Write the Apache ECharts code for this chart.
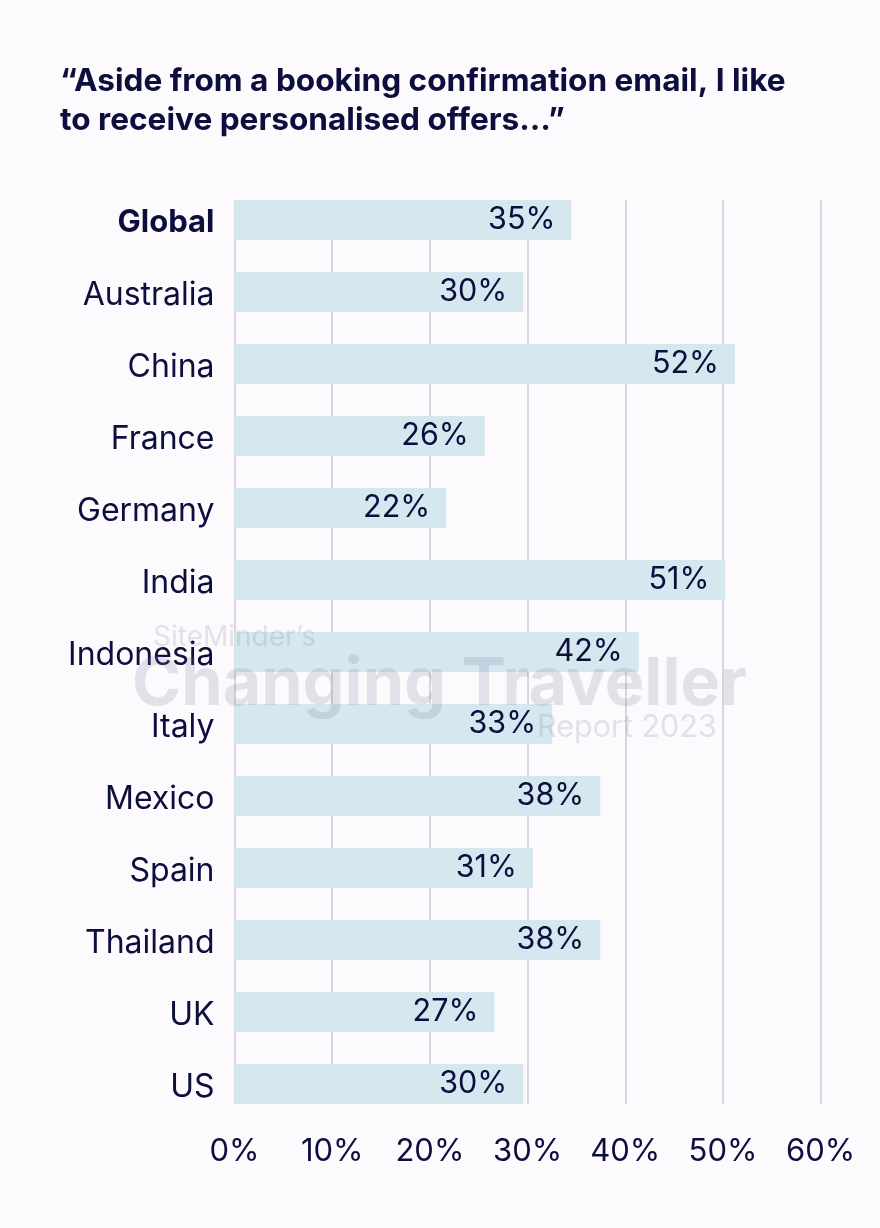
<!DOCTYPE html>
<html>
<head>
<meta charset="utf-8">
<script src="https://cdn.jsdelivr.net/npm/echarts@6/dist/echarts.min.js"></script>
<style>
  html, body { margin: 0; padding: 0; background: #fcfafc; }
  #chart { width: 880px; height: 1228px; }
</style>
</head>
<body>
<div id="chart"></div>
<script>
const titleLines = ['\u201CAside from a booking confirmation email, I like', 'to receive personalised offers\u2026\u201D'];
const categories = ['Global', 'Australia', 'China', 'France', 'Germany', 'India', 'Indonesia', 'Italy', 'Mexico', 'Spain', 'Thailand', 'UK', 'US'];
const values = [35, 30, 52, 26, 22, 51, 42, 33, 38, 31, 38, 27, 30];
const xTicks = [0, 10, 20, 30, 40, 50, 60];
const watermark = ['SiteMinder\u2019s', 'Changing Traveller', 'Report 2023'];

const NAVY = '#0c0e3d';
const FONT = 'Inter';
const WM = 'rgba(127,125,162,0.2)';
const chart = echarts.init(document.getElementById('chart'), null, { renderer: 'canvas' });

const L = 234.5, R = 880 - 820.7;
const option = {
  backgroundColor: '#fcfafc',
  animation: false,
  title: {
    text: titleLines.join('\n'),
    left: 60, top: 62, padding: 0,
    textStyle: { fontFamily: FONT, fontSize: 31.6, fontWeight: 'bold', color: NAVY, lineHeight: 39 }
  },
  grid: [
    { left: L, right: R, top: 184, height: 936 },
    { left: L, right: R, top: 200, height: 904 }
  ],
  xAxis: [
    { gridIndex: 0, type: 'value', min: 0, max: 60.9, show: false },
    {
      gridIndex: 1, type: 'value', min: xTicks[0], max: xTicks[xTicks.length - 1], interval: 10,
      axisLine: { show: false }, axisTick: { show: false },
      splitLine: { show: true, lineStyle: { color: '#d6d7dd', width: 2 } },
      axisLabel: { formatter: '{value}%', fontFamily: FONT, fontSize: 31, color: NAVY, margin: 32 }
    }
  ],
  yAxis: [
    {
      gridIndex: 0, type: 'category', data: categories, inverse: true,
      axisLine: { show: false }, axisTick: { show: false },
      axisLabel: {
        fontFamily: FONT, fontSize: 32, color: NAVY, margin: 20, padding: [6, 0, 0, 0],
        formatter: v => v === 'Global' ? '{b|' + v + '}' : v,
        rich: { b: { fontFamily: FONT, fontSize: 31, fontWeight: 'bold', color: NAVY } }
      }
    },
    { gridIndex: 1, type: 'value', show: false }
  ],
  graphic: [
    { type: 'text', z: 1, silent: true, x: 153, y: 638, style: { text: watermark[0], fontFamily: FONT, fontSize: 28, fill: WM, textVerticalAlign: 'middle' } },
    { type: 'text', z: 1, silent: true, x: 132, y: 685, style: { text: watermark[1], fontFamily: FONT, fontSize: 66.5, fontWeight: 'bold', fill: WM, textVerticalAlign: 'middle' } },
    { type: 'text', z: 1, silent: true, x: 537, y: 728, style: { text: watermark[2], fontFamily: FONT, fontSize: 30.5, fill: WM, textVerticalAlign: 'middle' } }
  ],
  series: [{
    type: 'bar', xAxisIndex: 0, yAxisIndex: 0, z: 0,
    data: values, barWidth: 40,
    itemStyle: { color: '#d6e8ef' },
    label: {
      show: true, position: 'insideRight', distance: 16, padding: [6, 0, 0, 0],
      formatter: '{c}%', fontFamily: FONT, fontSize: 30.5, color: NAVY
    }
  }]
};
chart.setOption(option);
</script>
</body>
</html>
